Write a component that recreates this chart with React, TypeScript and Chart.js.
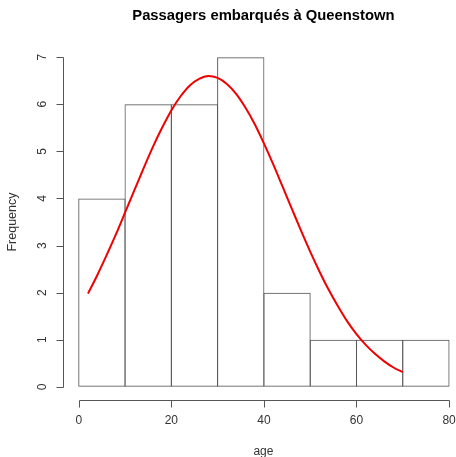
import { useEffect, useRef } from "react";
import { Chart, registerables } from "chart.js";
Chart.register(...registerables);

const title = "Passagers embarqués à Queenstown";
const xTitle = "age";
const yTitle = "Frequency";
const binMids = [5, 15, 25, 35, 45, 55, 65, 75];
const binCounts = [4, 6, 6, 7, 2, 1, 1, 1];
const curveX = [2, 4, 6, 8, 10, 12, 14, 16, 18, 20, 22, 24, 26, 28, 30, 32, 34, 36, 38, 40, 42, 44, 46, 48, 50, 52, 54, 56, 58, 60, 62, 64, 66, 68, 70];
const curveY = [1.98, 2.37, 2.79, 3.23, 3.70, 4.17, 4.64, 5.09, 5.50, 5.87, 6.17, 6.40, 6.54, 6.60, 6.56, 6.43, 6.22, 5.93, 5.58, 5.17, 4.73, 4.26, 3.79, 3.32, 2.87, 2.45, 2.06, 1.71, 1.39, 1.12, 0.89, 0.70, 0.54, 0.41, 0.31];
const xTicks = [0, 20, 40, 60, 80];
const yTicks = [0, 1, 2, 3, 4, 5, 6, 7];

const FONT = '"Liberation Sans", Arial, Helvetica, sans-serif';

export default function App() {
  const ref = useRef<HTMLCanvasElement>(null);
  useEffect(() => {
    if (!ref.current) return;
    const rPlugin = {
      id: "rAxes",
      afterDraw(chart: any) {
        const ctx = chart.ctx;
        const xs = chart.scales.x;
        const ys = chart.scales.y;
        const area = chart.chartArea;
        ctx.save();
        ctx.strokeStyle = "#555";
        ctx.lineWidth = 1;
        // x axis
        const yA = Math.round(area.bottom) + 0.5;
        const xa0 = Math.round(xs.getPixelForValue(xTicks[0])) + 0.5;
        const xa1 = Math.round(xs.getPixelForValue(xTicks[xTicks.length - 1])) + 0.5;
        ctx.beginPath();
        ctx.moveTo(xa0, yA);
        ctx.lineTo(xa1, yA);
        xTicks.forEach((t) => {
          const px = Math.round(xs.getPixelForValue(t)) + 0.5;
          ctx.moveTo(px, yA);
          ctx.lineTo(px, yA + 7);
        });
        ctx.stroke();
        // y axis
        const xA = Math.round(area.left) + 0.5;
        const ya0 = Math.round(ys.getPixelForValue(yTicks[0])) + 0.5;
        const ya1 = Math.round(ys.getPixelForValue(yTicks[yTicks.length - 1])) + 0.5;
        ctx.beginPath();
        ctx.moveTo(xA, ya0);
        ctx.lineTo(xA, ya1);
        yTicks.forEach((t) => {
          const py = Math.round(ys.getPixelForValue(t)) + 0.5;
          ctx.moveTo(xA, py);
          ctx.lineTo(xA - 7, py);
        });
        ctx.stroke();
        // tick labels
        ctx.fillStyle = "#333";
        ctx.font = `12px ${FONT}`;
        ctx.textAlign = "center";
        ctx.textBaseline = "middle";
        xTicks.forEach((t) => {
          ctx.fillText(String(t), xs.getPixelForValue(t), yA + 20);
        });
        yTicks.forEach((t) => {
          ctx.save();
          ctx.translate(xA - 21, ys.getPixelForValue(t));
          ctx.rotate(-Math.PI / 2);
          ctx.fillText(String(t), 0, 0);
          ctx.restore();
        });
        // axis titles
        const cx = (area.left + xs.getPixelForValue(83.2)) / 2;
        ctx.fillText(xTitle, cx, yA + 51);
        ctx.save();
        ctx.font = `12.5px ${FONT}`;
        ctx.translate(13, (area.top + area.bottom) / 2);
        ctx.rotate(-Math.PI / 2);
        ctx.fillText(yTitle, 0, 0);
        ctx.restore();
        // title
        ctx.fillStyle = "#000";
        ctx.font = `bold 14.8px ${FONT}`;
        ctx.textBaseline = "alphabetic";
        ctx.fillText(title, cx, 19.5);
        ctx.restore();
      },
    };
    const chart = new Chart(ref.current, {
      type: "bar",
      data: {
        datasets: [
          {
            type: "line",
            data: curveX.map((x, i) => ({ x, y: curveY[i] })),
            borderColor: "#f00000",
            borderWidth: 2,
            pointRadius: 0,
            cubicInterpolationMode: "monotone",
            fill: false,
            order: 0,
          } as any,
          {
            type: "bar",
            data: binMids.map((x, i) => ({ x, y: binCounts[i] })),
            backgroundColor: "rgba(255,255,255,0)",
            borderColor: "#555555",
            borderWidth: 1,
            borderSkipped: false,
            barPercentage: 1.0216,
            categoryPercentage: 1,
            order: 1,
          } as any,
        ],
      },
      options: {
        responsive: false,
        animation: false,
        layout: { padding: { left: 63, top: 44, right: 0, bottom: 57 } },
        plugins: { legend: { display: false }, tooltip: { enabled: false }, title: { display: false } },
        scales: {
          x: { type: "linear", min: -3.4, max: 81.5, display: false, offset: false },
          y: { type: "linear", min: -0.28, max: 7.28, display: false },
        },
      },
      plugins: [rPlugin],
    });
    return () => chart.destroy();
  }, []);
  return (
    <div style={{ position: "absolute", left: 0, top: 0, width: 456, height: 457, background: "#fff" }}>
      <canvas ref={ref} width={456} height={457} style={{ display: "block", width: 456, height: 457 }} />
    </div>
  );
}
